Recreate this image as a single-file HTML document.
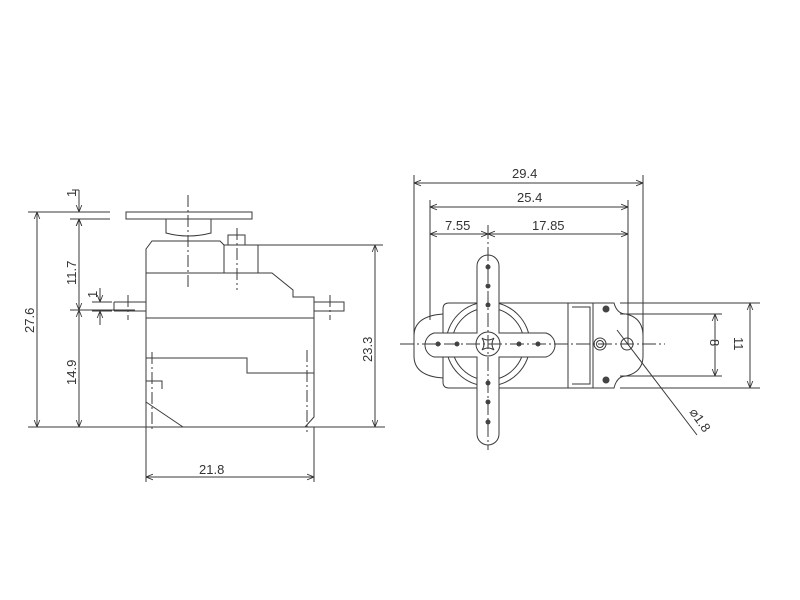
<!DOCTYPE html>
<html><head><meta charset="utf-8"><style>
html,body{margin:0;padding:0;background:#fff}
svg{display:block}
text{font-family:"Liberation Sans",sans-serif;font-size:13px;fill:#333}
</style></head><body>
<svg width="800" height="600" viewBox="0 0 800 600" xmlns="http://www.w3.org/2000/svg">
<defs>
<marker id="a" viewBox="0 0 10 10" refX="10" refY="5" markerWidth="7" markerHeight="7" orient="auto-start-reverse" markerUnits="userSpaceOnUse"><path d="M0,1 L10,5 L0,9" fill="none" stroke="#333" stroke-width="1.2"/></marker>
</defs>
<g stroke="#3a3a3a" stroke-width="1" fill="none">
<!-- LEFT VIEW -->
<rect x="126" y="212" width="126" height="7"/>
<path d="M166,219 V233 Q188,239 211,233 V219"/>
<path d="M146,273 V249 L152,241 H220 L224,245 V273"/>
<rect x="228" y="235" width="17" height="10"/>
<path d="M224,245 H258 V273"/>
<path d="M146,273 H272 L293,290 V297 H314 V311"/>
<path d="M146,273 V427 H305 L314,417 V311"/>
<path d="M114,302 H146 M114,311 H146 M114,302 V311"/>
<path d="M314,302 H344 V311 H314"/>
<path d="M146,318 H314"/>
<path d="M146,358 H247 V373 H314"/>
<path d="M146,402 L183,427"/>
<path d="M146,381 H162 V389"/>
<path d="M188,195 V290 M237,228 V290 M128,295 V320 M330,295 V320 M152,352 V432 M307,350 V432" stroke-dasharray="12,3,2,3"/>
<path d="M28,212 H110 M28,427 H385 M70,219 H110 M70,310 H135 M92,302 H112 M92,311 H112 M258,245 H383"/>
<path d="M37,212 V427" marker-start="url(#a)" marker-end="url(#a)"/>
<path d="M79,219 V310" marker-start="url(#a)" marker-end="url(#a)"/>
<path d="M79,310 V427" marker-start="url(#a)" marker-end="url(#a)"/>
<path d="M79,190 V212" marker-end="url(#a)"/><path d="M79,232 V219" marker-end="url(#a)"/>
<path d="M72,190 H79"/>
<path d="M100,288 V302" marker-end="url(#a)"/><path d="M100,325 V311" marker-end="url(#a)"/>
<path d="M375,245 V427" marker-start="url(#a)" marker-end="url(#a)"/>
<path d="M146,427 V482 M314,427 V482"/>
<path d="M146,477 H314" marker-start="url(#a)" marker-end="url(#a)"/>

<!-- RIGHT VIEW -->
<path d="M414,175 V345 M643,175 V345 M430,200 V320 M628,200 V345"/>
<path d="M414,183 H643" marker-start="url(#a)" marker-end="url(#a)"/>
<path d="M430,207 H628" marker-start="url(#a)" marker-end="url(#a)"/>
<path d="M430,234 H488" marker-start="url(#a)" marker-end="url(#a)"/>
<path d="M488,234 H628" marker-start="url(#a)" marker-end="url(#a)"/>
<path d="M449,303 H593 V388 H449 Q443,388 443,382 V309 Q443,303 449,303"/>
<rect x="568" y="303" width="25" height="85"/>
<path d="M572,307 H590 V384 H572"/>
<path d="M593,303 H614 Q617,314 626,314 Q643,318 643,336 V356 Q643,372 626,376 Q617,376 614,388 H593"/>
<path d="M443,314 Q414,316 414,336 V356 Q414,376 443,378"/>
<circle cx="488" cy="344" r="42"/>
<circle cx="488" cy="344" r="36"/>
<path d="M477,266 A11,11 0 0 1 499,266 V333 H546 A12.5,12.5 0 0 1 546,357 H499 V434 A11,11 0 0 1 477,434 V357 H434 A12.5,12.5 0 0 1 434,333 H477 Z" fill="#fff"/>
<circle cx="488" cy="344" r="12" fill="#fff"/>
<path d="M482,338 Q488,342 494,338 Q490,344 494,350 Q488,346 482,350 Q486,344 482,338Z"/>
<g fill="#444" stroke="none">
<circle cx="488" cy="267" r="2.5"/><circle cx="488" cy="286" r="2.5"/><circle cx="488" cy="305" r="2.5"/>
<circle cx="488" cy="383" r="2.5"/><circle cx="488" cy="402" r="2.5"/><circle cx="488" cy="422" r="2.5"/>
<circle cx="438" cy="344" r="2.5"/><circle cx="457" cy="344" r="2.5"/><circle cx="519" cy="344" r="2.5"/><circle cx="538" cy="344" r="2.5"/>
<circle cx="606" cy="309" r="3.5"/><circle cx="606" cy="380" r="3.5"/>
</g>
<circle cx="600" cy="344" r="6"/><circle cx="600" cy="344" r="3.5"/>
<circle cx="627" cy="344" r="6"/>
<path d="M400,344 H665 M488,225 V450" stroke-dasharray="14,3,2,3"/>
<path d="M620,303 H760 M620,314 H722 M620,376 H722 M620,388 H760"/>
<path d="M715,314 V376" marker-start="url(#a)" marker-end="url(#a)"/>
<path d="M750,303 V388" marker-start="url(#a)" marker-end="url(#a)"/>
<path d="M617,330 L697,435"/>
</g>
<text x="199" y="474">21.8</text>
<text transform="translate(34,333) rotate(-90)">27.6</text>
<text transform="translate(76,285) rotate(-90)">11.7</text>
<text transform="translate(76,385) rotate(-90)">14.9</text>
<text transform="translate(372,362) rotate(-90)">23.3</text>
<text transform="translate(76,197) rotate(-90)" font-size="11">1</text>
<text transform="translate(97,298) rotate(-90)" font-size="11">1</text>
<text x="512" y="178">29.4</text>
<text x="517" y="202">25.4</text>
<text x="445" y="230">7.55</text>
<text x="532" y="230">17.85</text>
<text transform="translate(710,339) rotate(90)">8</text>
<text transform="translate(734,337) rotate(90)">11</text>
<text transform="translate(689,412) rotate(55)">⌀1.8</text>
</svg>
</body></html>
